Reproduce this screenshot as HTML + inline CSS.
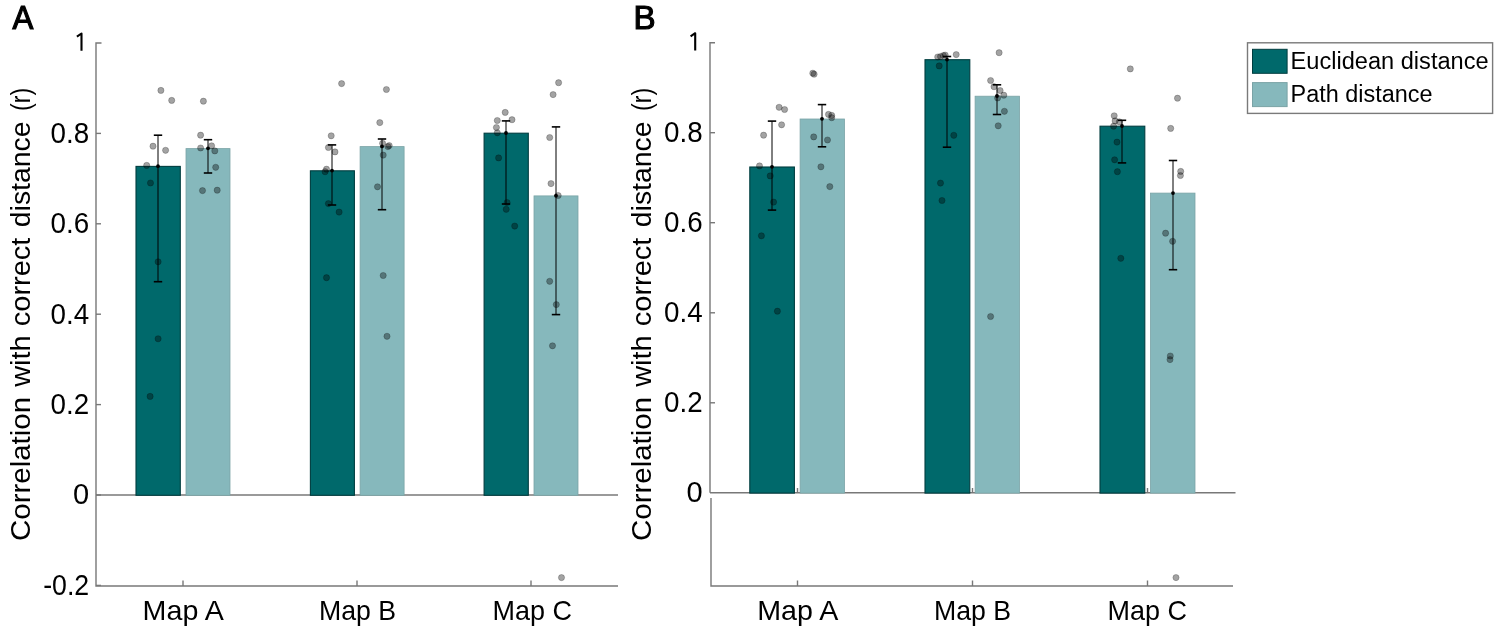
<!DOCTYPE html>
<html><head><meta charset="utf-8"><style>
html,body{margin:0;padding:0;background:#fff;}
svg{display:block;will-change:transform;}
</style></head><body>
<svg width="1499" height="635" viewBox="0 0 1499 635">
<rect width="1499" height="635" fill="#fff"/>
<g stroke="#787878" stroke-width="1.4" fill="none"><path d="M96,495 H618"/><path d="M710,492.8 H1235.5"/></g>
<g id="bars">
<rect x="136" y="166.4" width="44.3" height="328.9" fill="#00696b" stroke="#003d3f" stroke-width="1.1"/>
<rect x="186" y="148.6" width="44" height="346.7" fill="#86b8bc" stroke="#7aa3a6" stroke-width="0.8"/>
<rect x="310.4" y="170.8" width="44" height="324.5" fill="#00696b" stroke="#003d3f" stroke-width="1.1"/>
<rect x="360.1" y="146.6" width="44" height="348.7" fill="#86b8bc" stroke="#7aa3a6" stroke-width="0.8"/>
<rect x="484.1" y="133.2" width="44.2" height="362.1" fill="#00696b" stroke="#003d3f" stroke-width="1.1"/>
<rect x="534" y="195.9" width="44" height="299.4" fill="#86b8bc" stroke="#7aa3a6" stroke-width="0.8"/>
<rect x="749.8" y="167" width="44.6" height="326.1" fill="#00696b" stroke="#003d3f" stroke-width="1.1"/>
<rect x="800.1" y="119" width="44.4" height="374.1" fill="#86b8bc" stroke="#7aa3a6" stroke-width="0.8"/>
<rect x="925" y="59.7" width="44.8" height="433.4" fill="#00696b" stroke="#003d3f" stroke-width="1.1"/>
<rect x="975.1" y="96.2" width="44.4" height="396.9" fill="#86b8bc" stroke="#7aa3a6" stroke-width="0.8"/>
<rect x="1100" y="126.2" width="44.8" height="366.9" fill="#00696b" stroke="#003d3f" stroke-width="1.1"/>
<rect x="1150.5" y="193.1" width="44.5" height="300.0" fill="#86b8bc" stroke="#7aa3a6" stroke-width="0.8"/>
</g>
<g id="dots" fill="rgba(0,0,0,0.36)" stroke="rgba(0,0,0,0.22)" stroke-width="1">
<circle cx="160.9" cy="90.4" r="3.1"/>
<circle cx="171.7" cy="100.4" r="3.1"/>
<circle cx="153" cy="146.2" r="3.1"/>
<circle cx="165.6" cy="150.3" r="3.1"/>
<circle cx="146.7" cy="165.4" r="3.1"/>
<circle cx="150.5" cy="183" r="3.1"/>
<circle cx="158.1" cy="261.8" r="3.1"/>
<circle cx="158.1" cy="338.75" r="3.1"/>
<circle cx="150.1" cy="396.4" r="3.1"/>
<circle cx="203.4" cy="101.2" r="3.1"/>
<circle cx="200.6" cy="135.2" r="3.1"/>
<circle cx="211.6" cy="145.8" r="3.1"/>
<circle cx="200.6" cy="148" r="3.1"/>
<circle cx="214.8" cy="150.9" r="3.1"/>
<circle cx="215.7" cy="167.3" r="3.1"/>
<circle cx="202.5" cy="190.6" r="3.1"/>
<circle cx="217.2" cy="190.2" r="3.1"/>
<circle cx="341.6" cy="83.6" r="3.1"/>
<circle cx="331.2" cy="135.8" r="3.1"/>
<circle cx="328.4" cy="147.5" r="3.1"/>
<circle cx="335" cy="151.9" r="3.1"/>
<circle cx="326.5" cy="169.2" r="3.1"/>
<circle cx="325.1" cy="171.7" r="3.1"/>
<circle cx="328.4" cy="203.6" r="3.1"/>
<circle cx="339.1" cy="212.1" r="3.1"/>
<circle cx="326.5" cy="277.7" r="3.1"/>
<circle cx="386.4" cy="89.5" r="3.1"/>
<circle cx="379.8" cy="122.6" r="3.1"/>
<circle cx="382.6" cy="143.3" r="3.1"/>
<circle cx="389.2" cy="145.6" r="3.1"/>
<circle cx="387.9" cy="146.6" r="3.1"/>
<circle cx="383.2" cy="155.1" r="3.1"/>
<circle cx="377.5" cy="186.8" r="3.1"/>
<circle cx="383.2" cy="275.5" r="3.1"/>
<circle cx="387" cy="336.3" r="3.1"/>
<circle cx="505.2" cy="112.4" r="3.1"/>
<circle cx="497.3" cy="120.5" r="3.1"/>
<circle cx="512" cy="119.7" r="3.1"/>
<circle cx="496.4" cy="127.5" r="3.1"/>
<circle cx="497.3" cy="132.8" r="3.1"/>
<circle cx="498.6" cy="157.9" r="3.1"/>
<circle cx="507.1" cy="202.5" r="3.1"/>
<circle cx="506.2" cy="209.3" r="3.1"/>
<circle cx="514.7" cy="226.1" r="3.1"/>
<circle cx="558.6" cy="82.7" r="3.1"/>
<circle cx="553.1" cy="94.6" r="3.1"/>
<circle cx="549.7" cy="137.5" r="3.1"/>
<circle cx="551" cy="183.6" r="3.1"/>
<circle cx="558.2" cy="195.5" r="3.1"/>
<circle cx="549.7" cy="281.3" r="3.1"/>
<circle cx="556.3" cy="304.6" r="3.1"/>
<circle cx="552.5" cy="345.8" r="3.1"/>
<circle cx="561.5" cy="577.6" r="3.1"/>
<circle cx="779.1" cy="107.3" r="3.1"/>
<circle cx="784.6" cy="109.5" r="3.1"/>
<circle cx="781.6" cy="124.8" r="3.1"/>
<circle cx="763.6" cy="135.2" r="3.1"/>
<circle cx="759.5" cy="165.9" r="3.1"/>
<circle cx="770.2" cy="175.9" r="3.1"/>
<circle cx="773.6" cy="202.1" r="3.1"/>
<circle cx="761.4" cy="235.8" r="3.1"/>
<circle cx="777.4" cy="311.2" r="3.1"/>
<circle cx="812.8" cy="73.2" r="3.1"/>
<circle cx="814.1" cy="74.2" r="3.1"/>
<circle cx="828.5" cy="114.4" r="3.1"/>
<circle cx="831.7" cy="115.4" r="3.1"/>
<circle cx="831.7" cy="117.7" r="3.1"/>
<circle cx="813.7" cy="136.9" r="3.1"/>
<circle cx="827.5" cy="140" r="3.1"/>
<circle cx="820.9" cy="166.8" r="3.1"/>
<circle cx="829.8" cy="186.6" r="3.1"/>
<circle cx="937.7" cy="57" r="3.1"/>
<circle cx="940.5" cy="56.5" r="3.1"/>
<circle cx="943.4" cy="55.5" r="3.1"/>
<circle cx="945.2" cy="55.1" r="3.1"/>
<circle cx="956.2" cy="54.6" r="3.1"/>
<circle cx="939.2" cy="65.9" r="3.1"/>
<circle cx="953.8" cy="135.3" r="3.1"/>
<circle cx="940.5" cy="183.1" r="3.1"/>
<circle cx="942" cy="200.5" r="3.1"/>
<circle cx="999.1" cy="52.7" r="3.1"/>
<circle cx="990.6" cy="80.5" r="3.1"/>
<circle cx="994" cy="86.7" r="3.1"/>
<circle cx="1000.1" cy="90.5" r="3.1"/>
<circle cx="1003.8" cy="95.2" r="3.1"/>
<circle cx="997.6" cy="98" r="3.1"/>
<circle cx="1004.4" cy="111.3" r="3.1"/>
<circle cx="998.2" cy="125.8" r="3.1"/>
<circle cx="990.6" cy="316.5" r="3.1"/>
<circle cx="1130.3" cy="68.9" r="3.1"/>
<circle cx="1114.2" cy="115.8" r="3.1"/>
<circle cx="1115.1" cy="120.9" r="3.1"/>
<circle cx="1119.3" cy="121.8" r="3.1"/>
<circle cx="1113.6" cy="126.2" r="3.1"/>
<circle cx="1117" cy="142.1" r="3.1"/>
<circle cx="1114.6" cy="159.8" r="3.1"/>
<circle cx="1117.4" cy="171.7" r="3.1"/>
<circle cx="1120.8" cy="258.3" r="3.1"/>
<circle cx="1177.5" cy="98.2" r="3.1"/>
<circle cx="1170.7" cy="128.4" r="3.1"/>
<circle cx="1180.7" cy="171.4" r="3.1"/>
<circle cx="1180.4" cy="175.5" r="3.1"/>
<circle cx="1165.6" cy="233.2" r="3.1"/>
<circle cx="1172.6" cy="241.3" r="3.1"/>
<circle cx="1170.3" cy="356" r="3.1"/>
<circle cx="1170" cy="359.6" r="3.1"/>
<circle cx="1176" cy="577.6" r="3.1"/>
</g>
<g id="err">
<line x1="158" y1="135.2" x2="158" y2="281.7" stroke="#000" stroke-width="1"/>
<line x1="153.8" y1="135.2" x2="162.2" y2="135.2" stroke="#000" stroke-width="1.6"/>
<line x1="153.8" y1="281.7" x2="162.2" y2="281.7" stroke="#000" stroke-width="1.6"/>
<line x1="208" y1="139.7" x2="208" y2="173.0" stroke="#000" stroke-width="1"/>
<line x1="203.8" y1="139.7" x2="212.2" y2="139.7" stroke="#000" stroke-width="1.6"/>
<line x1="203.8" y1="173.0" x2="212.2" y2="173.0" stroke="#000" stroke-width="1.6"/>
<circle cx="158" cy="166.2" r="1.9" fill="#000"/>
<circle cx="208" cy="148.3" r="1.9" fill="#000"/>
<line x1="332" y1="144.9" x2="332" y2="205" stroke="#000" stroke-width="1"/>
<line x1="327.8" y1="144.9" x2="336.2" y2="144.9" stroke="#000" stroke-width="1.6"/>
<line x1="327.8" y1="205" x2="336.2" y2="205" stroke="#000" stroke-width="1.6"/>
<line x1="382" y1="139" x2="382" y2="209.7" stroke="#000" stroke-width="1"/>
<line x1="377.8" y1="139" x2="386.2" y2="139" stroke="#000" stroke-width="1.6"/>
<line x1="377.8" y1="209.7" x2="386.2" y2="209.7" stroke="#000" stroke-width="1.6"/>
<circle cx="332" cy="170.6" r="1.9" fill="#000"/>
<circle cx="382" cy="146.4" r="1.9" fill="#000"/>
<line x1="506" y1="120.9" x2="506" y2="204" stroke="#000" stroke-width="1"/>
<line x1="501.8" y1="120.9" x2="510.2" y2="120.9" stroke="#000" stroke-width="1.6"/>
<line x1="501.8" y1="204" x2="510.2" y2="204" stroke="#000" stroke-width="1.6"/>
<line x1="556" y1="126.9" x2="556" y2="314.6" stroke="#000" stroke-width="1"/>
<line x1="551.8" y1="126.9" x2="560.2" y2="126.9" stroke="#000" stroke-width="1.6"/>
<line x1="551.8" y1="314.6" x2="560.2" y2="314.6" stroke="#000" stroke-width="1.6"/>
<circle cx="506" cy="133.0" r="1.9" fill="#000"/>
<circle cx="556" cy="195.7" r="1.9" fill="#000"/>
<line x1="772" y1="121.1" x2="772" y2="210.1" stroke="#000" stroke-width="1"/>
<line x1="767.8" y1="121.1" x2="776.2" y2="121.1" stroke="#000" stroke-width="1.6"/>
<line x1="767.8" y1="210.1" x2="776.2" y2="210.1" stroke="#000" stroke-width="1.6"/>
<line x1="822" y1="104.6" x2="822" y2="146.8" stroke="#000" stroke-width="1"/>
<line x1="817.8" y1="104.6" x2="826.2" y2="104.6" stroke="#000" stroke-width="1.6"/>
<line x1="817.8" y1="146.8" x2="826.2" y2="146.8" stroke="#000" stroke-width="1.6"/>
<circle cx="772" cy="166.8" r="1.9" fill="#000"/>
<circle cx="822" cy="118.8" r="1.9" fill="#000"/>
<line x1="947" y1="56.5" x2="947" y2="147.2" stroke="#000" stroke-width="1"/>
<line x1="942.8" y1="56.5" x2="951.2" y2="56.5" stroke="#000" stroke-width="1.6"/>
<line x1="942.8" y1="147.2" x2="951.2" y2="147.2" stroke="#000" stroke-width="1.6"/>
<line x1="997" y1="84.8" x2="997" y2="114.5" stroke="#000" stroke-width="1"/>
<line x1="992.8" y1="84.8" x2="1001.2" y2="84.8" stroke="#000" stroke-width="1.6"/>
<line x1="992.8" y1="114.5" x2="1001.2" y2="114.5" stroke="#000" stroke-width="1.6"/>
<circle cx="947" cy="59.6" r="1.9" fill="#000"/>
<circle cx="997" cy="96.0" r="1.9" fill="#000"/>
<line x1="1122" y1="120.3" x2="1122" y2="162.9" stroke="#000" stroke-width="1"/>
<line x1="1117.8" y1="120.3" x2="1126.2" y2="120.3" stroke="#000" stroke-width="1.6"/>
<line x1="1117.8" y1="162.9" x2="1126.2" y2="162.9" stroke="#000" stroke-width="1.6"/>
<line x1="1173" y1="160.5" x2="1173" y2="269.7" stroke="#000" stroke-width="1"/>
<line x1="1168.8" y1="160.5" x2="1177.2" y2="160.5" stroke="#000" stroke-width="1.6"/>
<line x1="1168.8" y1="269.7" x2="1177.2" y2="269.7" stroke="#000" stroke-width="1.6"/>
<circle cx="1122" cy="126.0" r="1.9" fill="#000"/>
<circle cx="1173" cy="193.1" r="1.9" fill="#000"/>
</g>
<g stroke="#787878" stroke-width="1.4" fill="none">
<path d="M101.5,43 H96 V586 H618"/>
<path d="M96,133.4 H101"/>
<path d="M96,223.8 H101"/>
<path d="M96,314.2 H101"/>
<path d="M96,404.6 H101"/>
<path d="M96,495.0 H101"/>
<path d="M96,585.4 H101"/>
<path d="M183,586 V580.5"/>
<path d="M357,586 V580.5"/>
<path d="M531,586 V580.5"/>
<path d="M715,42.7 H710 V492.8"/>
<path d="M710,132.7 H715"/>
<path d="M710,222.7 H715"/>
<path d="M710,312.8 H715"/>
<path d="M710,402.8 H715"/>
<path d="M797.5,492.8 V488"/>
<path d="M972.5,492.8 V488"/>
<path d="M1147.5,492.8 V488"/>
<path d="M711,498 V586 H1233"/>
<path d="M797.5,586 V580.5"/>
<path d="M972.5,586 V580.5"/>
<path d="M1147.5,586 V580.5"/>
</g>
<g font-family='"Liberation Sans", sans-serif' font-size="29" fill="#000" text-anchor="end">
<text x="89.2" y="142.8" textLength="38.6" lengthAdjust="spacingAndGlyphs">0.8</text>
<text x="89.2" y="233.2" textLength="38.6" lengthAdjust="spacingAndGlyphs">0.6</text>
<text x="89.2" y="323.6" textLength="38.6" lengthAdjust="spacingAndGlyphs">0.4</text>
<text x="89.2" y="414.0" textLength="38.6" lengthAdjust="spacingAndGlyphs">0.2</text>
<text x="89.2" y="504.4">0</text>
<text x="89.2" y="594.8" textLength="46.0" lengthAdjust="spacingAndGlyphs">-0.2</text>
<text x="702.6" y="142.1" textLength="38.6" lengthAdjust="spacingAndGlyphs">0.8</text>
<text x="702.6" y="232.1" textLength="38.6" lengthAdjust="spacingAndGlyphs">0.6</text>
<text x="702.6" y="322.2" textLength="38.6" lengthAdjust="spacingAndGlyphs">0.4</text>
<text x="702.6" y="412.2" textLength="38.6" lengthAdjust="spacingAndGlyphs">0.2</text>
<text x="702.6" y="502.2">0</text>
</g>
<path d="M81.5,50.699999999999996 V33.5 L76.9,36.699999999999996" fill="none" stroke="#000" stroke-width="2.1" stroke-linejoin="round" stroke-linecap="butt"/>
<path d="M695.2,50.4 V33.2 L690.6,36.4" fill="none" stroke="#000" stroke-width="2.1" stroke-linejoin="round" stroke-linecap="butt"/>
<g font-family='"Liberation Sans", sans-serif' font-size="28" fill="#000" text-anchor="middle">
<text x="183.2" y="619.6" textLength="81.2" lengthAdjust="spacingAndGlyphs">Map A</text>
<text x="357.5" y="619.6" textLength="77.1" lengthAdjust="spacingAndGlyphs">Map B</text>
<text x="532.2" y="619.6" textLength="79.4" lengthAdjust="spacingAndGlyphs">Map C</text>
<text x="797.8" y="619.5" textLength="81.2" lengthAdjust="spacingAndGlyphs">Map A</text>
<text x="972.5" y="619.5" textLength="77.1" lengthAdjust="spacingAndGlyphs">Map B</text>
<text x="1147.3" y="619.5" textLength="79.4" lengthAdjust="spacingAndGlyphs">Map C</text>
</g>
<text font-family='"Liberation Sans", sans-serif' font-size="28.2" transform="translate(29.8,540.9) rotate(-90)" textLength="143.9" lengthAdjust="spacingAndGlyphs">Correlation</text>
<text font-family='"Liberation Sans", sans-serif' font-size="28.2" transform="translate(29.8,386.8) rotate(-90)" textLength="51.44" lengthAdjust="spacingAndGlyphs">with</text>
<text font-family='"Liberation Sans", sans-serif' font-size="28.2" transform="translate(29.8,326.2) rotate(-90)" textLength="88.53" lengthAdjust="spacingAndGlyphs">correct</text>
<text font-family='"Liberation Sans", sans-serif' font-size="28.2" transform="translate(29.8,227.2) rotate(-90)" textLength="105.66" lengthAdjust="spacingAndGlyphs">distance</text>
<text font-family='"Liberation Sans", sans-serif' font-size="28.2" transform="translate(29.8,111.0) rotate(-90)" textLength="23.28" lengthAdjust="spacingAndGlyphs">(r)</text>
<text font-family='"Liberation Sans", sans-serif' font-size="28.2" transform="translate(651.4,540.9) rotate(-90)" textLength="143.9" lengthAdjust="spacingAndGlyphs">Correlation</text>
<text font-family='"Liberation Sans", sans-serif' font-size="28.2" transform="translate(651.4,386.8) rotate(-90)" textLength="51.44" lengthAdjust="spacingAndGlyphs">with</text>
<text font-family='"Liberation Sans", sans-serif' font-size="28.2" transform="translate(651.4,326.2) rotate(-90)" textLength="88.53" lengthAdjust="spacingAndGlyphs">correct</text>
<text font-family='"Liberation Sans", sans-serif' font-size="28.2" transform="translate(651.4,227.2) rotate(-90)" textLength="105.66" lengthAdjust="spacingAndGlyphs">distance</text>
<text font-family='"Liberation Sans", sans-serif' font-size="28.2" transform="translate(651.4,111.0) rotate(-90)" textLength="23.28" lengthAdjust="spacingAndGlyphs">(r)</text>
<text font-family='"Liberation Sans", sans-serif' font-size="33.6" stroke="#000" stroke-width="1.2" x="12.4" y="29.3" textLength="20.8" lengthAdjust="spacingAndGlyphs">A</text>
<text font-family='"Liberation Sans", sans-serif' font-size="33.6" stroke="#000" stroke-width="1.2" x="633.5" y="29.2" textLength="22.1" lengthAdjust="spacingAndGlyphs">B</text>
<rect x="1247.5" y="42.8" width="245.1" height="70.6" fill="#fff" stroke="#7a7a7a" stroke-width="1.4"/>
<rect x="1252.5" y="49.3" width="34.6" height="24" fill="#00696b" stroke="#003d3f" stroke-width="1"/>
<rect x="1252.5" y="82.6" width="34.6" height="24" fill="#86b8bc" stroke="#7aa3a6" stroke-width="1"/>
<text font-family='"Liberation Sans", sans-serif' font-size="23.1" x="1290.6" y="69" textLength="198" lengthAdjust="spacingAndGlyphs">Euclidean distance</text>
<text font-family='"Liberation Sans", sans-serif' font-size="23.1" x="1290.6" y="102" textLength="142" lengthAdjust="spacingAndGlyphs">Path distance</text>
</svg>
</body></html>
